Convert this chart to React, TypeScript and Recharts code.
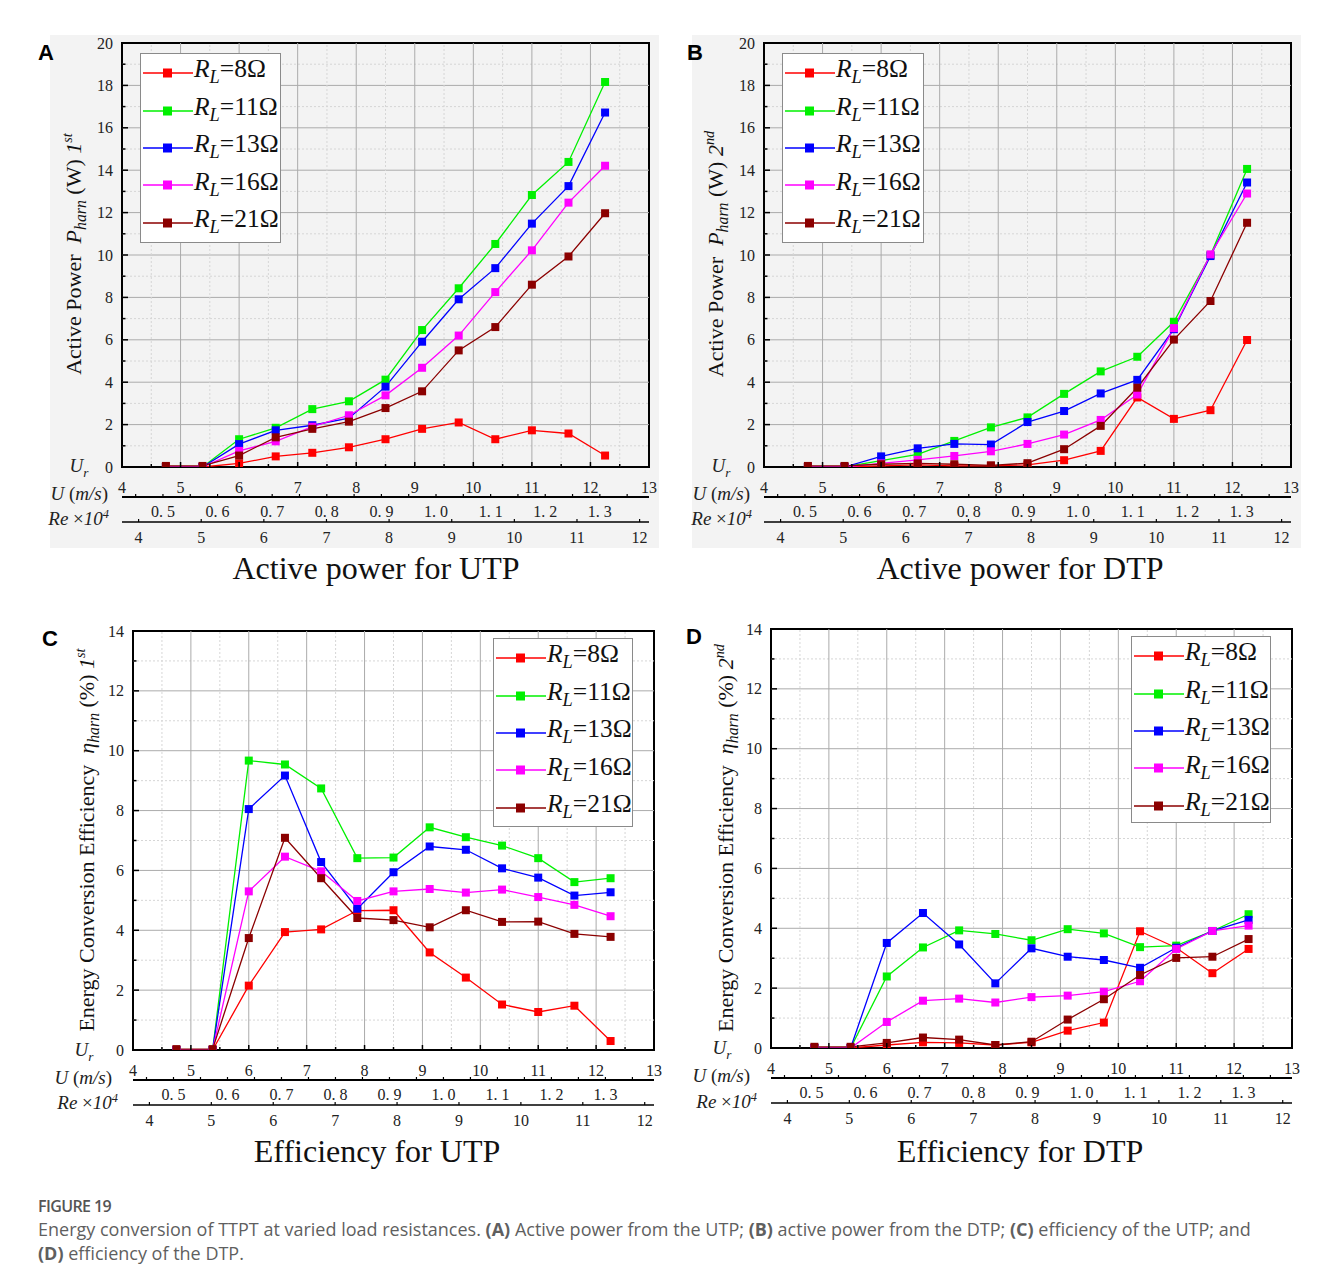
import React from 'react';
import { LineChart, Line, XAxis, YAxis, ReferenceLine, ReferenceArea } from 'recharts';

// wind speed U (m/s) of every measured point
const SPEED = [4.75, 5.375, 6, 6.625, 7.25, 7.875, 8.5, 9.125, 9.75, 10.375, 11, 11.625, 12.25];
const LOADS = ['8', '11', '13', '16', '21'];
const COLORS = ['#ff0000', '#00f000', '#0000ff', '#ff00ff', '#8b0000'];

// (A) active power UTP, W
const powerUtp8 = [0, 0, 0.17, 0.5, 0.67, 0.93, 1.31, 1.8, 2.1, 1.31, 1.73, 1.58, 0.54];
const powerUtp11 = [0, 0, 1.31, 1.85, 2.73, 3.1, 4.12, 6.46, 8.43, 10.52, 12.83, 14.39, 18.16];
const powerUtp13 = [0, 0, 1.08, 1.73, 1.97, 2.3, 3.79, 5.91, 7.91, 9.38, 11.48, 13.25, 16.72];
const powerUtp16 = [0, 0, 0.76, 1.21, 1.9, 2.44, 3.38, 4.68, 6.2, 8.25, 10.22, 12.47, 14.21];
const powerUtp21 = [0.05, 0.05, 0.54, 1.4, 1.8, 2.14, 2.78, 3.57, 5.5, 6.6, 8.6, 9.93, 11.97];

// (B) active power DTP, W
const powerDtp8 = [0, 0, 0.05, 0.1, 0.05, 0.05, 0.1, 0.32, 0.76, 3.28, 2.27, 2.68, 5.99];
const powerDtp11 = [0, 0, 0.3, 0.6, 1.23, 1.87, 2.34, 3.45, 4.51, 5.2, 6.85, 10.0, 14.06];
const powerDtp13 = [0, 0, 0.5, 0.88, 1.09, 1.06, 2.12, 2.64, 3.47, 4.11, 6.5, 9.95, 13.42];
const powerDtp16 = [0, 0, 0.17, 0.34, 0.52, 0.74, 1.09, 1.53, 2.22, 3.42, 6.55, 10.03, 12.9];
const powerDtp21 = [0.05, 0.05, 0.13, 0.17, 0.13, 0.08, 0.18, 0.84, 1.94, 3.74, 6.01, 7.83, 11.52];

// (C) efficiency UTP, %
const effUtp8 = [0, 0, 2.15, 3.94, 4.03, 4.66, 4.67, 3.26, 2.42, 1.52, 1.27, 1.48, 0.3];
const effUtp11 = [0, 0, 9.67, 9.54, 8.74, 6.41, 6.43, 7.44, 7.11, 6.83, 6.41, 5.61, 5.74];
const effUtp13 = [0, 0, 8.05, 9.17, 6.28, 4.72, 5.94, 6.8, 6.69, 6.07, 5.76, 5.16, 5.27];
const effUtp16 = [0, 0, 5.3, 6.46, 5.97, 4.98, 5.3, 5.38, 5.26, 5.36, 5.11, 4.85, 4.47];
const effUtp21 = [0.03, 0.03, 3.74, 7.09, 5.74, 4.41, 4.34, 4.1, 4.67, 4.28, 4.29, 3.88, 3.78];

// (D) efficiency DTP, %
const effDtp8 = [0, 0, 0.1, 0.19, 0.17, 0.1, 0.19, 0.58, 0.85, 3.9, 3.35, 2.5, 3.31];
const effDtp11 = [0, 0, 2.39, 3.36, 3.93, 3.81, 3.6, 3.97, 3.83, 3.37, 3.42, 3.91, 4.47];
const effDtp13 = [0, 0, 3.51, 4.51, 3.46, 2.16, 3.33, 3.05, 2.94, 2.68, 3.35, 3.91, 4.28];
const effDtp16 = [0, 0, 0.87, 1.58, 1.65, 1.52, 1.7, 1.75, 1.88, 2.23, 3.31, 3.91, 4.09];
const effDtp21 = [0.04, 0.04, 0.17, 0.35, 0.28, 0.1, 0.21, 0.95, 1.63, 2.44, 3.01, 3.05, 3.64];

// axis ticks
const U_TICKS = [4, 4.5, 5, 5.5, 6, 6.5, 7, 7.5, 8, 8.5, 9, 9.5, 10, 10.5, 11, 11.5, 12, 12.5, 13];
const RE_TICKS = [0.45, 0.5, 0.55, 0.6, 0.65, 0.7, 0.75, 0.8, 0.85, 0.9, 0.95, 1.0, 1.05, 1.1, 1.15, 1.2, 1.25, 1.3, 1.35];
const LOW_TICKS = [4, 5, 6, 7, 8, 9, 10, 11, 12];
const POWER_TICKS = [0, 1, 2, 3, 4, 5, 6, 7, 8, 9, 10, 11, 12, 13, 14, 15, 16, 17, 18, 19, 20];
const EFF_TICKS = [0, 1, 2, 3, 4, 5, 6, 7, 8, 9, 10, 11, 12, 13, 14];

const SERIF = '"Liberation Serif", "Times New Roman", serif';
const SANS = '"Liberation Sans", Arial, sans-serif';

const buildRows = (series: number[][]) =>
    SPEED.map((u, i) => {
        const row: any = { u };
        LOADS.forEach((r, k) => { row['r' + r] = series[k][i]; });
        return row;
    });

const YTick = (props: any) => {
    const { x, y, payload } = props;
    const v = payload.value;
    const major = v % 2 === 0;
    return (
        <g>
            <line x1={x} x2={x + (major ? 6 : 3.5)} y1={y} y2={y} stroke="#000" strokeWidth={1.5} />
            {major && (
                <text x={x - 9} y={y} textAnchor="end" dominantBaseline="central" fontSize={16} fontFamily={SERIF} fill="#222">{v}</text>
            )}
        </g>
    );
};

const UTick = (props: any) => {
    const { x, y, payload } = props;
    const v = payload.value;
    const major = Number.isInteger(v);
    return (
        <g>
            <line x1={x} x2={x} y1={y} y2={y - (major ? 5 : 3)} stroke="#000" strokeWidth={1.5} />
            {major && (
                <text x={x} y={y + 20} textAnchor="middle" dominantBaseline="central" fontSize={16} fontFamily={SERIF} fill="#222">{v}</text>
            )}
        </g>
    );
};

const ReTick = (props: any) => {
    const { x, y, payload } = props;
    const v = payload.value;
    const labelled = Math.round(v * 100) % 10 === 0;
    return (
        <g>
            <line x1={x} x2={x} y1={y} y2={y - 3} stroke="#000" strokeWidth={1.2} />
            {labelled && (
                <text x={x} y={y + 14} textAnchor="middle" dominantBaseline="central" fontSize={16} fontFamily={SERIF} fill="#222">
                    {v.toFixed(1).replace('.', '. ')}
                </text>
            )}
        </g>
    );
};

const LowTick = (props: any) => {
    const { x, y, payload } = props;
    return (
        <g>
            <line x1={x} x2={x} y1={y} y2={y - 3} stroke="#000" strokeWidth={1.2} />
            <text x={x} y={y + 15} textAnchor="middle" dominantBaseline="central" fontSize={16} fontFamily={SERIF} fill="#222">{payload.value}</text>
        </g>
    );
};

const squareDot = (color: string) => (p: any) => {
    if (p.cx == null || p.cy == null) return <g key={'n' + p.index} />;
    return <rect key={'d' + p.index} x={p.cx - 4} y={p.cy - 4} width={8} height={8} fill={color} />;
};

const RLabel = ({ r }: { r: string }) => (
    <span>
        <i>R</i><sub style={{ fontSize: '0.72em', verticalAlign: '-0.3em' }}><i>L</i></sub>={r}Ω
    </span>
);

const LegendBox = ({ left, top, width, height }: any) => (
    <div style={{
        position: 'absolute', left, top, width, height, boxSizing: 'border-box',
        border: '1.5px solid #8a8a8a', background: '#fff',
    }}>
        {LOADS.map((r, i) => (
            <div key={r} style={{
                position: 'absolute', left: 2, top: i * 37.4 + 0.5, height: 37.4,
                display: 'flex', alignItems: 'center', whiteSpace: 'nowrap',
            }}>
                <svg width={50} height={12} style={{ display: 'block' }}>
                    <line x1={0} x2={50} y1={6} y2={6} stroke={COLORS[i]} strokeWidth={1.3} />
                    <rect x={20} y={1.5} width={9} height={9} fill={COLORS[i]} />
                </svg>
                <span style={{ fontFamily: SERIF, fontSize: 25.5, lineHeight: '25px', color: '#111', marginLeft: 1 }}>
                    <RLabel r={r} />
                </span>
            </div>
        ))}
    </div>
);

const Abs = ({ x, y, anchor = 'center', rotate = false, style, children }: any) => {
    const tx = anchor === 'center' ? '-50%' : anchor === 'right' ? '-100%' : '0';
    return (
        <div style={{
            position: 'absolute', left: x, top: y, whiteSpace: 'nowrap', lineHeight: 1,
            transform: rotate ? 'translate(-50%, -50%) rotate(-90deg)' : `translate(${tx}, -50%)`,
            ...style,
        }}>{children}</div>
    );
};

const Panel = ({ cfg }: any) => {
    const rows = buildRows(cfg.series);
    const yMax = cfg.yTicks[cfg.yTicks.length - 1];
    return (
        <>
            {cfg.gray && (
                <div style={{ position: 'absolute', left: cfg.left, top: cfg.top, width: cfg.width, height: cfg.height, background: '#f3f3f3' }} />
            )}
            <div style={{ position: 'absolute', left: cfg.left, top: cfg.top }}>
                <LineChart width={cfg.width} height={cfg.height} data={rows}
                    margin={{ top: cfg.marginTop, right: 10, left: 0, bottom: 0 }}>
                    <XAxis xAxisId="x1u" dataKey="u" type="number" domain={[4, 13]} ticks={U_TICKS} interval={0}
                        allowDataOverflow height={30} axisLine={false} tickSize={0} tickMargin={0} tick={UTick} />
                    <XAxis xAxisId="x2re" dataKey="u" type="number" domain={[0.425, 1.39]} ticks={RE_TICKS} interval={0}
                        allowDataOverflow height={25} axisLine={{ stroke: '#000', strokeWidth: 2.2 }} tickSize={0} tickMargin={0} tick={ReTick} />
                    <XAxis xAxisId="x3low" dataKey="u" type="number" domain={[3.735, 12.15]} ticks={LOW_TICKS} interval={0}
                        allowDataOverflow height={26} axisLine={{ stroke: '#000', strokeWidth: 1.6 }} tickSize={0} tickMargin={0} tick={LowTick} />
                    <YAxis type="number" domain={[0, yMax]} ticks={cfg.yTicks} interval={0} width={cfg.yWidth}
                        allowDataOverflow axisLine={false} tickSize={0} tickMargin={0} tick={YTick} />
                    {cfg.yTicks.filter((v: number) => v > 0 && v < yMax).map((v: number) => (
                        <ReferenceLine key={'h' + v} xAxisId="x1u" y={v}
                            stroke={v % 2 === 0 ? '#ababab' : '#d6d6d6'} strokeWidth={1}
                            strokeDasharray={v % 2 === 0 ? undefined : '2 2'} />
                    ))}
                    {U_TICKS.filter((v) => v > 4 && v < 13).map((v) => (
                        <ReferenceLine key={'v' + v} xAxisId="x1u" x={v}
                            stroke={Number.isInteger(v) ? '#ababab' : '#d6d6d6'} strokeWidth={1}
                            strokeDasharray={Number.isInteger(v) ? undefined : '2 2'} />
                    ))}
                    <ReferenceArea xAxisId="x1u" x1={4} x2={13} y1={0} y2={yMax} fill="none" fillOpacity={0}
                        stroke="#000" strokeWidth={2} ifOverflow="visible" />
                    {/* invisible series so the two secondary scales get a domain */}
                    <Line xAxisId="x2re" dataKey="r8" stroke="none" dot={false} activeDot={false} legendType="none" isAnimationActive={false} />
                    <Line xAxisId="x3low" dataKey="r8" stroke="none" dot={false} activeDot={false} legendType="none" isAnimationActive={false} />
                    {LOADS.map((r, i) => (
                        <Line key={r} xAxisId="x1u" type="linear" dataKey={'r' + r} stroke={COLORS[i]} strokeWidth={1.3}
                            dot={squareDot(COLORS[i])} activeDot={false} isAnimationActive={false} />
                    ))}
                </LineChart>
            </div>
            <LegendBox {...cfg.legend} />
            <Abs x={cfg.yTitle.x} y={cfg.yTitle.y} rotate style={{ fontFamily: SERIF, fontSize: 22, color: '#111' }}>
                {cfg.yTitle.text}
            </Abs>
            <Abs x={cfg.xTitle.x} y={cfg.xTitle.y} style={{ fontFamily: SERIF, fontSize: 32, color: '#111' }}>
                {cfg.xTitle.text}
            </Abs>
            <Abs x={cfg.letter.x} y={cfg.letter.y} style={{ fontFamily: SANS, fontWeight: 700, fontSize: 22, color: '#000' }}>
                {cfg.letter.text}
            </Abs>
            <Abs x={cfg.ur.x} y={cfg.ur.y} style={{ fontFamily: SERIF, fontSize: 19, color: '#222' }}>
                <i>U</i><sub style={{ fontSize: '0.7em' }}><i>r</i></sub>
            </Abs>
            <Abs x={cfg.uLab.x} y={cfg.uLab.y} anchor="right" style={{ fontFamily: SERIF, fontSize: 19, color: '#222' }}>
                <i>U</i> (<i>m/s</i>)
            </Abs>
            <Abs x={cfg.reLab.x} y={cfg.reLab.y} anchor="right" style={{ fontFamily: SERIF, fontSize: 19, color: '#222' }}>
                <i>Re</i> ×<i>10</i><sup style={{ fontSize: '0.65em' }}><i>4</i></sup>
            </Abs>
        </>
    );
};

const powerTitle = (ord: React.ReactNode) => (
    <span>Active Power&nbsp;&nbsp;<i>P</i><sub style={{ fontSize: '0.72em' }}><i>harn</i></sub> (W) {ord}</span>
);
const effTitle = (ord: React.ReactNode) => (
    <span>Energy Conversion Efficiency&nbsp;&nbsp;<i>η</i><sub style={{ fontSize: '0.72em' }}><i>harn</i></sub> (%) {ord}</span>
);
const first = <span><i>1</i><sup style={{ fontSize: '0.65em' }}><i>st</i></sup></span>;
const second = <span><i>2</i><sup style={{ fontSize: '0.65em' }}><i>nd</i></sup></span>;

const PANELS = [
    {
        left: 50, top: 35, width: 609, height: 513, marginTop: 8, yWidth: 72, gray: true,
        yTicks: POWER_TICKS, series: [powerUtp8, powerUtp11, powerUtp13, powerUtp16, powerUtp21],
        legend: { left: 140, top: 53, width: 141, height: 190 },
        yTitle: { x: 75, y: 254, text: powerTitle(first) },
        xTitle: { x: 376, y: 568, text: 'Active power for UTP' },
        letter: { x: 46, y: 53, text: 'A' },
        ur: { x: 79, y: 468 }, uLab: { x: 108, y: 493 }, reLab: { x: 109, y: 518 },
    },
    {
        left: 692, top: 35, width: 609, height: 513, marginTop: 8, yWidth: 72, gray: true,
        yTicks: POWER_TICKS, series: [powerDtp8, powerDtp11, powerDtp13, powerDtp16, powerDtp21],
        legend: { left: 782, top: 53, width: 142, height: 190 },
        yTitle: { x: 717, y: 254, text: powerTitle(second) },
        xTitle: { x: 1020, y: 568, text: 'Active power for DTP' },
        letter: { x: 695, y: 53, text: 'B' },
        ur: { x: 721, y: 468 }, uLab: { x: 750, y: 493 }, reLab: { x: 752, y: 518 },
    },
    {
        left: 60, top: 620, width: 604, height: 511, marginTop: 11, yWidth: 73, gray: false,
        yTicks: EFF_TICKS, series: [effUtp8, effUtp11, effUtp13, effUtp16, effUtp21],
        legend: { left: 493, top: 638, width: 140, height: 189 },
        yTitle: { x: 88, y: 840, text: effTitle(first) },
        xTitle: { x: 377, y: 1151, text: 'Efficiency for UTP' },
        letter: { x: 50, y: 639, text: 'C' },
        ur: { x: 84, y: 1052 }, uLab: { x: 112, y: 1077 }, reLab: { x: 118, y: 1102 },
    },
    {
        left: 698, top: 618, width: 604, height: 511, marginTop: 11, yWidth: 73, gray: false,
        yTicks: EFF_TICKS, series: [effDtp8, effDtp11, effDtp13, effDtp16, effDtp21],
        legend: { left: 1131, top: 636, width: 140, height: 187 },
        yTitle: { x: 727, y: 838, text: effTitle(second) },
        xTitle: { x: 1020, y: 1151, text: 'Efficiency for DTP' },
        letter: { x: 694, y: 637, text: 'D' },
        ur: { x: 722, y: 1050 }, uLab: { x: 750, y: 1075 }, reLab: { x: 757, y: 1101 },
    },
];

export default function App() {
    const cap = { fontFamily: '"Open Sans", "Noto Sans", sans-serif', fontSize: 18, color: '#5f5f5f' };
    return (
        <div style={{ position: 'absolute', left: 0, top: 0, width: 1330, height: 1286, background: '#fff', overflow: 'hidden' }}>
            {PANELS.map((p, i) => <Panel key={i} cfg={p} />)}
            <div style={{ position: 'absolute', left: 38, top: 1195, ...cap, fontSize: 16, fontWeight: 600, letterSpacing: -0.6, color: '#555' }}>FIGURE 19</div>
            <div style={{ position: 'absolute', left: 38, top: 1218, width: 1280, lineHeight: '23.5px', whiteSpace: 'nowrap', ...cap }}>
                Energy conversion of TTPT at varied load resistances. <b>(A)</b> Active power from the UTP; <b>(B)</b> active power from the DTP; <b>(C)</b> efficiency of the UTP; and
                <br />
                <b>(D)</b> efficiency of the DTP.
            </div>
        </div>
    );
}
